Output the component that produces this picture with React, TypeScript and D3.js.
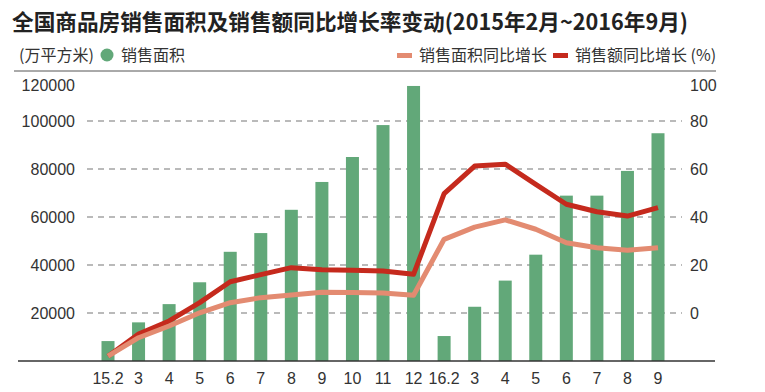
import React from "react";
import * as d3 from "d3";

const categories = ["15.2","3","4","5","6","7","8","9","10","11","12","16.2","3 ","4 ","5 ","6 ","7 ","8 ","9 "];
const salesArea = [8300,16100,23700,32800,45500,53300,63000,74600,85000,98300,114600,10400,22600,33500,44300,68900,68900,79200,94900];
const areaGrowth = [-18,-10.3,-5.4,0.1,4.3,6.4,7.5,8.6,8.5,8.3,7.4,30.7,35.8,38.8,34.9,29.3,27.2,26.1,27.2];
const amountGrowth = [-18,-8.8,-3.3,4.3,13,16,18.9,18,17.8,17.5,16.1,49.7,61.2,62,53.6,45.3,42.2,40.4,43.9];
const leftTicks = [20000,40000,60000,80000,100000,120000];
const rightTicks = [0,20,40,60,80,100];

const title = "全国商品房销售面积及销售额同比增长率变动(2015年2月~2016年9月)";
const leftUnit = "(万平方米)";
const barLabel = "销售面积";
const areaLabel = "销售面积同比增长";
const amountLabel = "销售额同比增长 (%)";

const GREEN = "#62a879";
const RED = "#c52a1d";
const LIGHT = "#e38b71";
const TEXT = "#333";
const FONT = "'Liberation Sans', 'Noto Sans CJK SC', sans-serif";
const CJK = "'Noto Sans CJK SC', 'Liberation Sans', sans-serif";

export default function App() {
  const x = d3.scalePoint<string>().domain(categories).range([108, 658]);
  const yL = d3.scaleLinear().domain([0, 120000]).range([361, 73]);
  const yR = d3.scaleLinear().domain([-20, 100]).range([361, 73]);
  const barW = 13;

  const line = d3.line<number>()
    .x((_, i) => x(categories[i]) as number)
    .y((d) => yR(d))
    .curve(d3.curveLinear);

  return (
    <svg width={765} height={392} style={{ position: "absolute", left: 0, top: 0, background: "#fff" }}>
      <text x={12} y={30} fontFamily={CJK} fontWeight={700} fontSize={22} fill="#222" textLength={676} lengthAdjust="spacingAndGlyphs">{title}</text>

      <text x={19} y={61} fontFamily={CJK} fontSize={16} fill={TEXT}>{leftUnit}</text>
      <circle cx={107} cy={55} r={6.5} fill={GREEN} />
      <text x={121} y={61} fontFamily={CJK} fontSize={16} fill={TEXT}>{barLabel}</text>

      <rect x={397} y={53} width={15} height={5} fill={LIGHT} />
      <text x={419} y={61} fontFamily={CJK} fontSize={16} fill={TEXT}>{areaLabel}</text>
      <rect x={553} y={53} width={15} height={5} fill={RED} />
      <text x={575} y={61} fontFamily={CJK} fontSize={16} fill={TEXT}>{amountLabel}</text>

      <line x1={14} x2={716} y1={71} y2={71} stroke="#555" strokeWidth={1} />

      {leftTicks.filter((t) => t < 120000).map((t) => (
        <line key={"g" + t} x1={87} x2={682} y1={yL(t)} y2={yL(t)} stroke="#777" strokeWidth={1.2} strokeDasharray="6,5" />
      ))}

      {leftTicks.map((t) => (
        <text key={"l" + t} x={75} y={Math.max(yL(t), 85)} dy="0.35em" textAnchor="end" fontFamily={FONT} fontSize={16} fill={TEXT}>{t}</text>
      ))}
      {rightTicks.map((t) => (
        <text key={"r" + t} x={690} y={Math.max(yR(t), 85)} dy="0.35em" textAnchor="start" fontFamily={FONT} fontSize={16} fill={TEXT}>{t}</text>
      ))}

      {salesArea.map((v, i) => (
        <rect key={"b" + i} x={(x(categories[i]) as number) - barW / 2} y={yL(v)} width={barW} height={yL(0) - yL(v)} fill={GREEN} />
      ))}

      <line x1={18} x2={715} y1={361} y2={361} stroke="#333" strokeWidth={1.5} />

      <path d={line(amountGrowth) || ""} fill="none" stroke={RED} strokeWidth={5} strokeLinejoin="round" strokeLinecap="butt" />
      <path d={line(areaGrowth) || ""} fill="none" stroke={LIGHT} strokeWidth={5} strokeLinejoin="round" strokeLinecap="butt" />

      {categories.map((c, i) => (
        <text key={"x" + i} x={x(c) as number} y={378} dy="0.35em" textAnchor="middle" fontFamily={FONT} fontSize={16} fill={TEXT}>{c.trim()}</text>
      ))}
    </svg>
  );
}
